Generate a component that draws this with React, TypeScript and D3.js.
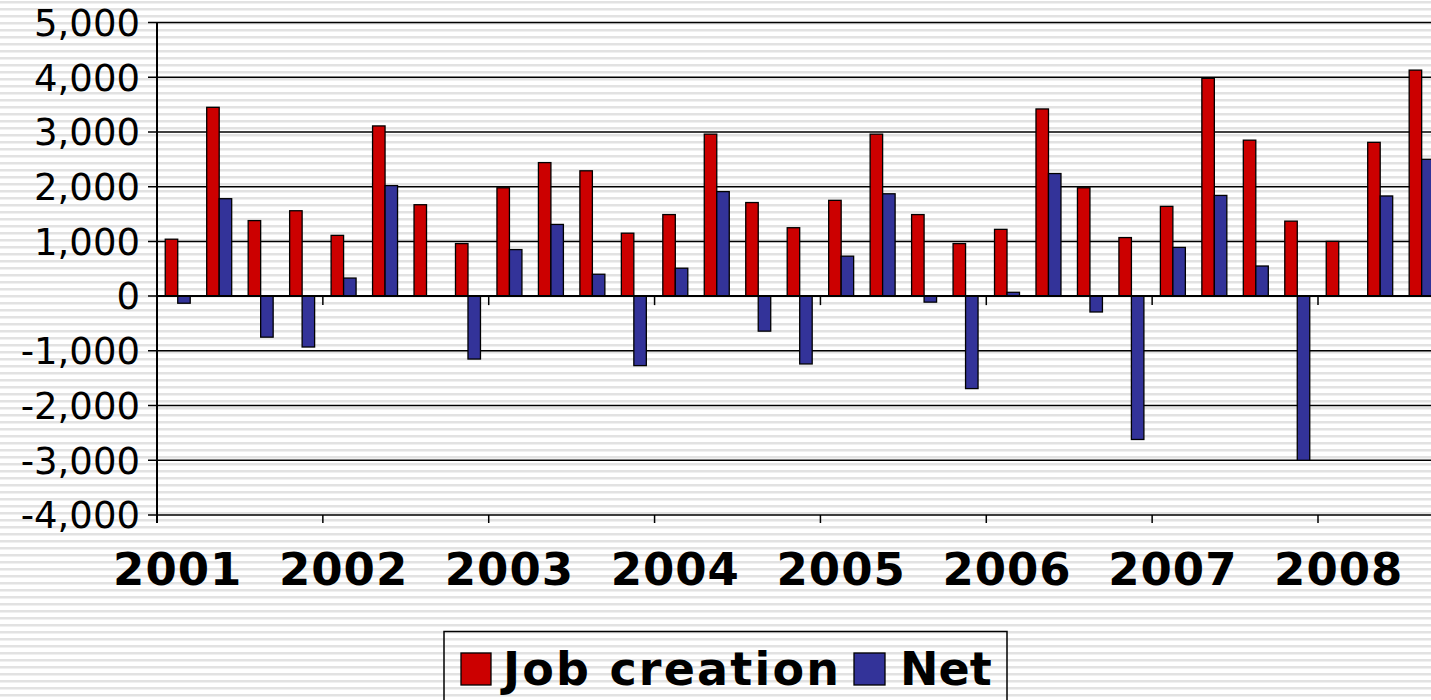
import React from "react";
import * as d3 from "d3";

const categories: string[] = [
  "2001", "", "", "",
  "2002", "", "", "",
  "2003", "", "", "",
  "2004", "", "", "",
  "2005", "", "", "",
  "2006", "", "", "",
  "2007", "", "", "",
  "2008", "", "",
];

const jobCreation: number[] = [
  1040, 3450, 1380, 1560,
  1110, 3110, 1670, 960,
  1980, 2440, 2290, 1150,
  1490, 2960, 1710, 1250,
  1750, 2960, 1490, 960,
  1220, 3420, 1980, 1070,
  1640, 3980, 2850, 1370,
  1000, 2810, 4130,
];

const net: number[] = [
  -130, 1780, -750, -930,
  330, 2020, 0, -1150,
  850, 1310, 400, -1270,
  510, 1910, -640, -1240,
  730, 1870, -110, -1690,
  70, 2240, -290, -2620,
  890, 1840, 550, -3000,
  0, 1830, 2500,
];

const yTicks: number[] = [5000, 4000, 3000, 2000, 1000, 0, -1000, -2000, -3000, -4000];

const seriesNames = ["Job creation", "Net"];
const seriesColors = ["#CC0000", "#333399"];

const W = 1431;
const H = 700;
const FONT = "'DejaVu Sans', Verdana, sans-serif";

export default function App() {
  const catW = (1318 - 157) / 28;
  const x = d3
    .scaleBand<number>()
    .domain(categories.map((_, i) => i))
    .range([157, 157 + catW * categories.length])
    .paddingInner(0)
    .paddingOuter(0);
  const x1 = d3
    .scaleBand<string>()
    .domain(seriesNames)
    .range([0, x.bandwidth()])
    .paddingInner(0)
    .paddingOuter(0.66);
  const y = d3.scaleLinear().domain([-4000, 5000]).range([515, 22.5]);
  const fmt = d3.format(",");

  const seriesData = [jobCreation, net];
  const plotRight = 157 + catW * categories.length;

  return (
    <svg
      width={W}
      height={H}
      style={{ position: "absolute", left: 0, top: 0, display: "block" }}
    >
      <defs>
        <pattern id="stripes" width={8} height={7} patternUnits="userSpaceOnUse">
          <rect x={0} y={0} width={8} height={7} fill="#ffffff" />
          <rect x={0} y={1} width={8} height={2} fill="#e2e2e2" />
          <rect x={0} y={3} width={8} height={1} fill="#f0f0f0" />
        </pattern>
      </defs>
      <rect x={0} y={0} width={W} height={H} fill="url(#stripes)" />

      {/* gridlines */}
      {yTicks.map((t) => (
        <line
          key={"g" + t}
          x1={148}
          x2={plotRight}
          y1={y(t)}
          y2={y(t)}
          stroke="#000"
          strokeWidth={1.5}
        />
      ))}

      {/* y labels */}
      {yTicks.map((t) => (
        <text
          key={"l" + t}
          x={140}
          y={y(t)}
          dy="0.36em"
          textAnchor="end"
          fontFamily={FONT}
          fontSize={37}
          fill="#000"
        >
          {fmt(t).replace("−", "-")}
        </text>
      ))}

      {/* bars */}
      {categories.map((_, i) =>
        seriesNames.map((s, si) => {
          const v = seriesData[si][i];
          const y0 = y(Math.max(0, v));
          const h = Math.abs(y(v) - y(0));
          return (
            <rect
              key={"b" + i + s}
              x={(x(i) as number) + (x1(s) as number)}
              y={y0}
              width={x1.bandwidth()}
              height={h}
              fill={seriesColors[si]}
              stroke="#000"
              strokeWidth={1.3}
            />
          );
        })
      )}

      {/* zero axis line */}
      <line x1={157} x2={plotRight} y1={y(0)} y2={y(0)} stroke="#000" strokeWidth={2} />
      {/* y axis */}
      <line x1={157} x2={157} y1={y(5000)} y2={y(-4000) + 8} stroke="#000" strokeWidth={2} />

      {/* x ticks every 4 categories */}
      {categories.map((c, i) =>
        i % 4 === 0 && i > 0 ? (
          <g key={"t" + i}>
            <line
              x1={x(i) as number}
              x2={x(i) as number}
              y1={y(0)}
              y2={y(0) + 9}
              stroke="#000"
              strokeWidth={1.5}
            />
            <line
              x1={x(i) as number}
              x2={x(i) as number}
              y1={y(-4000)}
              y2={y(-4000) + 8}
              stroke="#000"
              strokeWidth={1.5}
            />
          </g>
        ) : null
      )}

      {/* category labels */}
      {categories.map((c, i) =>
        c ? (
          <text
            key={"c" + i}
            x={(x(i) as number) + x.bandwidth() / 2}
            y={585}
            textAnchor="middle"
            fontFamily={FONT}
            fontWeight="bold"
            fontSize={45}
            letterSpacing={1}
            fill="#000"
          >
            {c}
          </text>
        ) : null
      )}

      {/* legend */}
      <rect x={444} y={631.5} width={563} height={80} fill="none" stroke="#000" strokeWidth={1.5} />
      <rect x={461} y={653} width={30} height={32} fill={seriesColors[0]} stroke="#000" strokeWidth={1.3} />
      <text
        x={503}
        y={685}
        fontFamily={FONT}
        fontWeight="bold"
        fontSize={46}
        fill="#000"
        textLength={336}
        lengthAdjust="spacing"
      >
        {seriesNames[0]}
      </text>
      <rect x={854} y={653} width={31} height={32} fill={seriesColors[1]} stroke="#000" strokeWidth={1.3} />
      <text x={900} y={685} fontFamily={FONT} fontWeight="bold" fontSize={46} fill="#000">
        {seriesNames[1]}
      </text>
    </svg>
  );
}
